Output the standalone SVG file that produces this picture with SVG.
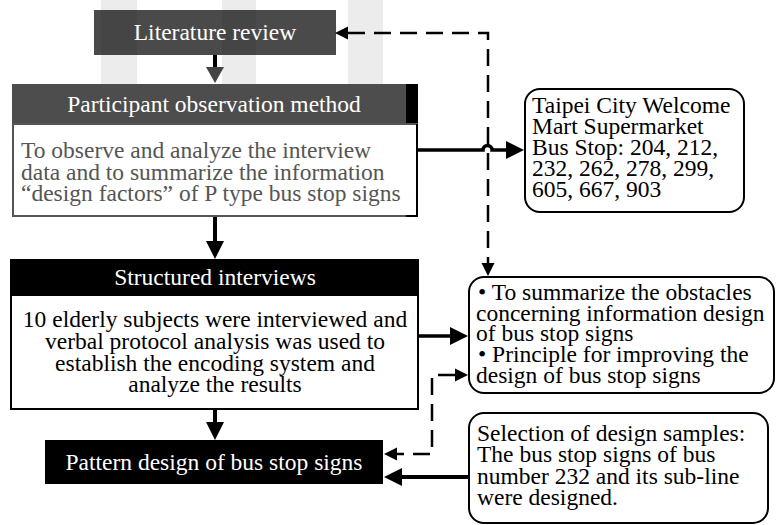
<svg xmlns="http://www.w3.org/2000/svg" width="779" height="525" viewBox="0 0 779 525">
<style>
text{font-family:"Liberation Serif","Times New Roman",serif;font-size:23.5px;}
.w{fill:#fff;}
.c{text-anchor:middle;}
.k{fill:#000;}
.g{fill:#555;}
.wm{fill:#ececec;}
.conn{fill:none;stroke:#000;}
.dash{stroke-dasharray:17 9;stroke-width:2.5;}
.rbox{fill:#fff;stroke:#000;stroke-width:2;}
</style>
<defs>
<marker id="ah" markerUnits="userSpaceOnUse" markerWidth="19" markerHeight="18" refX="0" refY="9" orient="auto-start-reverse" overflow="visible"><path d="M0,0 L18,9 L0,18 z" fill="#000"/></marker>
<marker id="ahg" markerUnits="userSpaceOnUse" markerWidth="19" markerHeight="18" refX="0" refY="9" orient="auto-start-reverse" overflow="visible"><path d="M0,0 L16,9 L0,18 z" fill="#444"/></marker>
<marker id="as" markerUnits="userSpaceOnUse" markerWidth="14" markerHeight="13" refX="0" refY="6.5" orient="auto-start-reverse" overflow="visible"><path d="M0,0 L13,6.5 L0,13 z" fill="#000"/></marker>
</defs>
<rect width="779" height="525" fill="#fff"/>
<g id="watermark">
<rect class="wm" x="101" y="0" width="36" height="128"/>
<path class="wm" d="M222,0 H256 V88 Q256,100 275,100 H300 Q318,100 322,90 L336,96 Q330,130 295,130 H262 Q222,130 222,95 Z"/>
<rect class="wm" x="348" y="0" width="35" height="128"/>
</g>
<g id="connectors">
<path class="conn" d="M215,55 V67" stroke="#444" stroke-width="4" marker-end="url(#ahg)"/>
<path class="conn" d="M215,216 V241" stroke="#555" stroke-width="4" marker-end="url(#ah)"/>
<path class="conn" d="M215,410 V422" stroke-width="4" marker-end="url(#ah)"/>
<path class="conn" d="M416,150 H483 A4.5,4.5 0 0 1 492,150 H506" stroke-width="3.5" marker-end="url(#ah)"/>
<path class="conn dash" d="M348,33 H488 V263" marker-start="url(#as)" marker-end="url(#as)"/>
<path class="conn" d="M419,336 H450" stroke-width="3.5" marker-end="url(#ah)"/>
<path class="conn dash" d="M455,375 H432 V454 H397" marker-start="url(#as)" marker-end="url(#as)"/>
<path class="conn" d="M468,477 H402" stroke-width="4" marker-end="url(#ah)"/>
</g>
<g id="literature-review">
<rect x="94" y="10" width="242" height="45" fill="#000" fill-opacity="0.71"/>
<text class="w c" x="215" y="40">Literature review</text>
</g>
<g id="participant-observation">
<rect x="12" y="84" width="406" height="40" fill="#4d4d4d"/>
<rect x="406" y="84" width="12" height="40" fill="#000"/>
<rect x="13" y="124" width="404" height="92" fill="#fff" stroke="#555" stroke-width="2"/>
<path d="M406,216 H417 V124" fill="none" stroke="#000" stroke-width="2"/>
<text class="w c" x="214" y="112">Participant observation method</text>
<text class="g" x="21" y="158">To observe and analyze the interview</text>
<text class="g" x="21" y="179.5">data and to summarize the information</text>
<text class="g" x="21" y="201">“design factors” of P type bus stop signs</text>
</g>
<g id="structured-interviews">
<rect x="10" y="259" width="409" height="36" fill="#000"/>
<rect x="11" y="295" width="407" height="114" fill="#fff" stroke="#000" stroke-width="2"/>
<text class="w c" x="215" y="285">Structured interviews</text>
<text class="k c" x="215" y="327">10 elderly subjects were interviewed and</text>
<text class="k c" x="215" y="349">verbal protocol analysis was used to</text>
<text class="k c" x="215" y="370.5">establish the encoding system and</text>
<text class="k c" x="215" y="392">analyze the results</text>
</g>
<g id="pattern-design">
<rect x="45" y="440" width="338" height="44" fill="#000"/>
<text class="w c" x="214" y="470">Pattern design of bus stop signs</text>
</g>
<g id="bus-stop">
<rect class="rbox" x="525" y="89" width="219" height="123" rx="15"/>
<text class="k" x="532" y="113">Taipei City Welcome</text>
<text class="k" x="532" y="134">Mart Supermarket</text>
<text class="k" x="532" y="155">Bus Stop: 204, 212,</text>
<text class="k" x="532" y="176">232, 262, 278, 299,</text>
<text class="k" x="532" y="197">605, 667, 903</text>
</g>
<g id="obstacles">
<rect class="rbox" x="469" y="277" width="305" height="116" rx="15"/>
<text class="k" x="478" y="300">• To summarize the obstacles</text>
<text class="k" x="476" y="321">concerning information design</text>
<text class="k" x="476" y="341">of bus stop signs</text>
<text class="k" x="478" y="362">• Principle for improving the</text>
<text class="k" x="476" y="383">design of bus stop signs</text>
</g>
<g id="design-samples">
<rect class="rbox" x="469" y="413" width="299" height="110" rx="15"/>
<text class="k" x="477" y="441">Selection of design samples:</text>
<text class="k" x="477" y="462">The bus stop signs of bus</text>
<text class="k" x="477" y="483.5">number 232 and its sub-line</text>
<text class="k" x="477" y="505">were designed.</text>
</g>
</svg>
